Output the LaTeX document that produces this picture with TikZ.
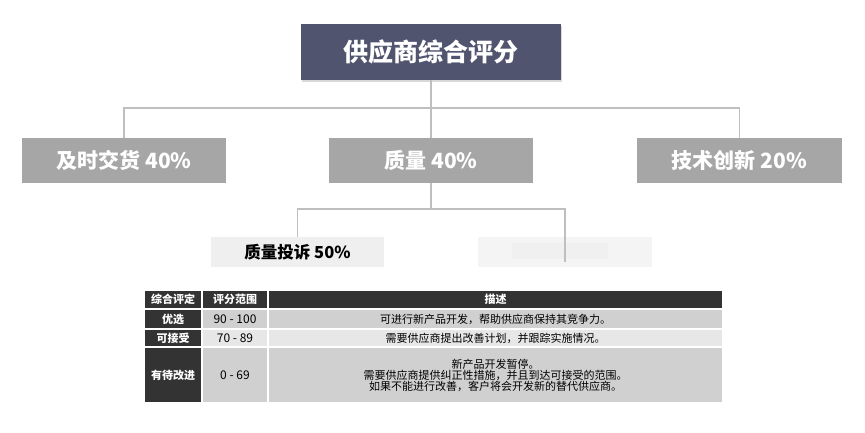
\documentclass[tikz,border=0pt]{standalone}
\usepackage{fontspec}
\setmainfont{Noto Sans CJK SC}
\usetikzlibrary{shadows}
\definecolor{titlec}{HTML}{51546E}
\definecolor{levtwo}{HTML}{A6A6A6}
\definecolor{levthree}{HTML}{EFEFEF}
\definecolor{linec}{HTML}{BFBFBF}
\definecolor{hdrc}{HTML}{333333}
\definecolor{rowa}{HTML}{D0D0D0}
\definecolor{rowb}{HTML}{E7E7E7}
\begin{document}
\begin{tikzpicture}[x=1pt,y=-1pt,
  boxbase/.style={rectangle,inner sep=0pt,outer sep=0pt,anchor=center},
  titlebox/.style={boxbase,fill=titlec,text=white,minimum width=260pt,minimum height=56pt,
     font=\fontsize{25}{30}\selectfont\bfseries,
     drop shadow={opacity=0.3,shadow xshift=1pt,shadow yshift=-2pt}},
  lvtwo/.style={boxbase,fill=levtwo,text=white,minimum width=204pt,minimum height=45pt,
     font=\fontsize{21}{26}\selectfont\bfseries},
  lvthree/.style={boxbase,fill=levthree,text=black,minimum width=174pt,minimum height=30pt,
     font=\fontsize{16.5}{20}\selectfont\bfseries},
  conn/.style={draw=linec,line width=1.2pt},
  cell/.style={boxbase,minimum height=#1},
  hdrcell/.style={boxbase,fill=hdrc,text=white,font=\fontsize{11}{13}\selectfont\bfseries},
  numtext/.style={font=\fontsize{12}{14}\selectfont},
  desctext/.style={font=\fontsize{11}{11}\selectfont,align=center}
]
\useasboundingbox (0,0) rectangle (865,433);
\fill[white] (0,0) rectangle (865,433);

% level 1
\node[titlebox] (top) at (431,52) {供应商综合评分};

% level 2
\node[lvtwo] (jit) at (124,160.5) {及时交货 40\%};
\node[lvtwo] (qual) at (431,160.5) {质量 40\%};
\node[lvtwo,minimum width=205pt] (tech) at (739.5,160.5) {技术创新 20\%};

% level 3
\node[lvthree,minimum width=173pt] (comp) at (297.5,252) {质量投诉 50\%};
\node[lvthree,fill=levthree!70!white] (blur) at (565,252) {};
\fill[black!6] (512,243) rectangle (608,259);

% connectors
\coordinate (hub) at (431,108);
\coordinate (hubb) at (431,209);
\draw[conn] (top.south) -- (hub);
\draw[conn] (hub) -| (jit.north);
\draw[conn] (hub) -- (qual.north);
\draw[conn] (hub) -| (tech.north);
\draw[conn] (qual.south) -- (hubb);
\draw[conn] (hubb) -| (comp.north);
\coordinate (blurend) at (565,262);
\draw[conn] (hubb) -| (blurend);

% table header
\node[hdrcell,minimum width=56pt,minimum height=17pt] (h1) at (173,299.5) {综合评定};
\node[hdrcell,minimum width=64pt,minimum height=17pt] (h2) at (235,299.5) {评分范围};
\node[hdrcell,minimum width=453pt,minimum height=17pt] (h3) at (495.5,299.5) {描述};

% row 1
\node[hdrcell,minimum width=56pt,minimum height=18pt] (a1) at (173,319) {优选};
\node[boxbase,fill=rowa,numtext,minimum width=64pt,minimum height=18pt] (a2) at (235,319) {90 - 100};
\node[boxbase,fill=rowa,desctext,minimum width=453pt,minimum height=18pt] (a3) at (495.5,319) {可进行新产品开发，帮助供应商保持其竞争力。};

% row 2
\node[hdrcell,minimum width=56pt,minimum height=16pt] (b1) at (173,338) {可接受};
\node[boxbase,fill=rowb,numtext,minimum width=64pt,minimum height=16pt] (b2) at (235,338) {70 - 89};
\node[boxbase,fill=rowb,desctext,minimum width=453pt,minimum height=16pt] (b3) at (495.5,338) {需要供应商提出改善计划，并跟踪实施情况。};

% row 3
\node[hdrcell,minimum width=56pt,minimum height=54pt] (c1) at (173,375) {有待改进};
\node[boxbase,fill=rowa,numtext,minimum width=64pt,minimum height=54pt] (c2) at (235,375) {0 - 69};
\node[boxbase,fill=rowa,desctext,minimum width=453pt,minimum height=54pt] (c3) at (495.5,375)
  {新产品开发暂停。\\需要供应商提供纠正性措施，并且到达可接受的范围。\\如果不能进行改善，客户将会开发新的替代供应商。};
\end{tikzpicture}
\end{document}
